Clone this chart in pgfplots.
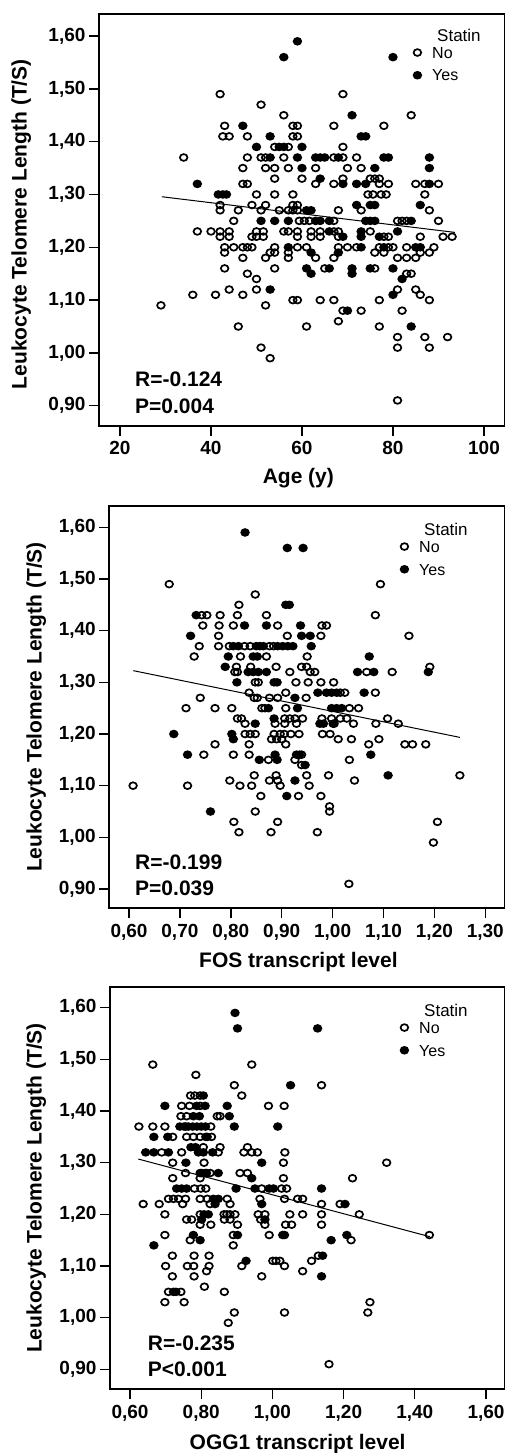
\documentclass[border=0pt]{standalone}
\usepackage{pgfplots}
\pgfplotsset{compat=1.18}
\usepackage{fontspec}
\setmainfont{Liberation Sans}
\pgfplotsset{
  panel/.style={
    scale only axis,
    tick pos=left, tick align=outside,
    major tick length=10pt,
    tick style={line width=1.4pt, black},
    axis line style={line width=1.8pt, black},
    ticklabel style={font=\fontsize{19}{22}\selectfont\bfseries},
    xticklabel style={yshift=-2pt},
    label style={font=\fontsize{21}{24}\selectfont\bfseries},
    ylabel={Leukocyte Telomere Length (T/S)},
    ytick={0.9,1,1.1,1.2,1.3,1.4,1.5,1.6},
    yticklabels={{0,90},{1,00},{1,10},{1,20},{1,30},{1,40},{1,50},{1,60}},
    legend style={draw=none, fill=none, inner sep=0pt, outer sep=0pt,
      anchor=north west, row sep=11.2pt,
      font=\fontsize{16}{16}\selectfont,
      nodes={inner sep=0pt, text height=11.5pt, text depth=0pt},
      /tikz/every odd column/.append style={column sep=11pt}},
    legend cell align=left,
  },
  openm/.style={only marks, mark=o, mark size=3.4pt, black,
    mark options={xscale=1.12, line width=1.7pt},
    legend image code/.code={\draw[##1] plot coordinates {(0pt,0pt)};}},
  fillm/.style={only marks, mark=*, mark size=3.4pt, black,
    mark options={xscale=1.12, line width=1.7pt, fill=black},
    legend image code/.code={\draw[##1] plot coordinates {(0pt,0pt)};}},
  regl/.style={black, line width=1pt, forget plot, no marks},
}
\begin{document}
\begin{tikzpicture}
%%%%%%%%%%%%%%%% Panel 1
\begin{axis}[panel,
  at={(99pt,-14pt)}, anchor=north west, width=406pt, height=412pt,
  xmin=15.385, xmax=104.62, ymin=0.8616, ymax=1.6417,
  xtick={20,40,60,80,100}, xticklabels={20,40,60,80,100},
  xlabel={Age (y)},
  xlabel style={at={(axis description cs:0.491,0)}, anchor=base, yshift=-57.3pt},
  ylabel style={at={(axis description cs:-0.178,0.49)}, anchor=base},
  legend style={at={(axis description cs:0.7749,0.9204)}},
]
\addplot[openm] coordinates {
(42,1.49)(69,1.49)(51,1.47)(56,1.45)(84,1.45)
(43,1.43)(58,1.43)(59,1.43)(67,1.43)(78,1.43)
(42.6,1.41)(44,1.41)(48,1.41)(58,1.41)(59,1.41)
(54,1.39)(57,1.39)(69,1.39)
(34,1.37)(48,1.37)(51,1.37)(52,1.37)(56,1.37)(67,1.37)(69,1.37)(72,1.37)
(47,1.35)(52,1.35)(54,1.35)(57,1.35)(63,1.35)(70,1.35)(73,1.35)
(54,1.33)(60,1.33)(69,1.33)(75,1.33)(76,1.33)(77,1.33)
(47,1.32)(48,1.32)(63,1.32)(67,1.32)(77,1.32)(79,1.32)(85,1.32)(87,1.32)(90,1.32)
(50,1.30)(54,1.30)(58,1.30)(74.5,1.30)(75.6,1.30)(77.4,1.30)(78.5,1.30)(87,1.30)
(42,1.28)(49,1.28)(52,1.28)(58,1.28)(59,1.28)
(42,1.27)(46,1.27)(51,1.27)(55,1.27)(57,1.27)(58,1.27)(59,1.27)(68,1.27)(73,1.27)(88,1.27)
(45,1.25)(59.4,1.25)(60.5,1.25)(61.6,1.25)(67,1.25)(81,1.25)(82,1.25)(83,1.25)(90,1.25)
(37,1.23)(40,1.23)(42,1.23)(44,1.23)(50,1.23)(51.5,1.23)(56,1.23)(57,1.23)(59,1.23)(62,1.23)(64,1.23)(67,1.23)(68,1.23)(75,1.23)
(42,1.22)(44,1.22)(49,1.22)(50,1.22)(51.5,1.22)(59,1.22)(62,1.22)(64,1.22)(68,1.22)(78,1.22)(79,1.22)(86,1.22)(91,1.22)(93,1.22)
(43,1.20)(45,1.20)(47,1.20)(48,1.20)(49,1.20)(54,1.20)(59,1.20)(61,1.20)(68,1.20)(70,1.20)(72,1.20)(77,1.20)(79,1.20)(80,1.20)(83,1.20)(89,1.20)
(43,1.19)(53,1.19)(54,1.19)(57,1.19)(76,1.19)(78,1.19)(86,1.19)(88,1.19)
(47,1.18)(52,1.18)(57,1.18)(63,1.18)(67,1.18)(81,1.18)(83,1.18)(85,1.18)
(43,1.16)(54,1.16)(65,1.16)(76,1.16)
(48,1.15)(83,1.15)(84,1.15)
(50,1.14)
(44,1.12)(50,1.12)(81,1.12)(85,1.12)
(36,1.11)(41,1.11)(47,1.11)(86,1.11)
(58,1.10)(59,1.10)(64,1.10)(67,1.10)(77,1.10)(88,1.10)
(29,1.09)(52,1.09)
(69,1.08)(73,1.08)(82,1.08)
(68,1.06)
(46,1.05)(61,1.05)(77,1.05)
(81,1.03)(87,1.03)(92,1.03)
(51,1.01)(81,1.01)(88,1.01)
(53,0.99)(81,0.91)
};
\addplot[fillm] coordinates {
(59,1.59)(56,1.56)(80,1.56)(71,1.45)(47,1.43)
(53,1.41)(73,1.41)(74,1.41)
(50,1.39)(55,1.39)(56,1.39)(60,1.39)
(53,1.37)(59,1.37)(63,1.37)(64,1.37)(65,1.37)(68,1.37)(78,1.37)(79,1.37)(88,1.37)
(60,1.35)(76,1.35)(88,1.35)
(64,1.33)
(37,1.32)(69,1.32)(72,1.32)(74,1.32)(88,1.32)
(41.6,1.30)(42.6,1.30)(43.4,1.30)
(72,1.28)(75,1.28)(76,1.28)(86,1.28)
(61,1.27)(62,1.27)
(51,1.25)(54,1.25)(57,1.25)(63,1.25)(64,1.25)(66,1.25)(74,1.25)(75,1.25)(76,1.25)(84,1.25)
(66,1.23)(73,1.23)(81,1.23)
(69,1.22)(73,1.22)(77,1.22)
(57,1.20)(73,1.20)(78,1.20)(85,1.20)(86,1.20)
(62,1.19)(68,1.19)
(61,1.16)(66,1.16)(71,1.16)(75,1.16)(80,1.16)
(62,1.15)(71,1.15)
(82,1.14)(53,1.12)(80,1.11)(70,1.08)(84,1.05)
};
\addplot[regl] coordinates {(29.2,1.2957) (93.6,1.2282)};
\legend{No,Yes}
\node[anchor=base west, inner sep=0pt, font=\fontsize{17}{17}\selectfont] at (rel axis cs:0.8325,0.9328) {Statin};
\node[anchor=base west, inner sep=0pt, font=\fontsize{21}{21}\selectfont\bfseries] at (rel axis cs:0.0887,0.0954) {R=-0.124};
\node[anchor=base west, inner sep=0pt, font=\fontsize{21}{21}\selectfont\bfseries] at (rel axis cs:0.0887,0.0308) {P=0.004};
\end{axis}
%%%%%%%%%%%%%%%% Panel 2
\begin{axis}[panel,
  at={(109.3pt,-505.7pt)}, anchor=north west, width=395.7pt, height=402.6pt,
  xmin=0.5613, xmax=1.3387, ymin=0.8627, ymax=1.6418,
  xtick={0.6,0.7,0.8,0.9,1.0,1.1,1.2,1.3},
  xticklabels={{0,60},{0,70},{0,80},{0,90},{1,00},{1,10},{1,20},{1,30}},
  xlabel={FOS transcript level},
  xlabel style={at={(axis description cs:0.478,0)}, anchor=base, yshift=-59.4pt},
  ylabel style={at={(axis description cs:-0.171,0.5)}, anchor=base},
  legend style={at={(axis description cs:0.7362,0.9128)}},
]
\addplot[openm] coordinates {
(0.679,1.49)(1.094,1.49)(0.848,1.47)(0.816,1.45)
(0.743,1.43)(0.753,1.43)(0.779,1.43)(0.813,1.43)(0.870,1.43)(1.084,1.43)
(0.745,1.41)(0.777,1.41)(0.805,1.41)(0.892,1.41)(0.979,1.41)(0.988,1.41)
(0.776,1.39)(0.911,1.39)(0.977,1.39)(1.150,1.39)
(0.738,1.37)(0.776,1.37)(0.797,1.37)(0.827,1.37)(0.838,1.37)(0.876,1.37)(0.884,1.37)
(0.728,1.35)(0.819,1.35)(0.870,1.35)(0.950,1.35)
(0.811,1.33)(0.839,1.33)(0.889,1.33)(0.939,1.33)(0.949,1.33)(1.191,1.33)
(0.808,1.32)(0.813,1.32)(0.916,1.32)(0.956,1.32)(0.965,1.32)(1.067,1.32)(1.117,1.32)
(0.848,1.30)(0.854,1.30)(0.928,1.30)(0.952,1.30)(0.977,1.30)(1.002,1.30)
(0.836,1.28)(0.908,1.28)(1.015,1.28)(1.024,1.28)(1.084,1.28)
(0.740,1.27)(0.846,1.27)(0.852,1.27)(0.876,1.27)(0.892,1.27)(0.948,1.27)
(0.712,1.25)(0.769,1.25)(0.802,1.25)(0.861,1.25)(0.867,1.25)(0.908,1.25)(1.033,1.25)(1.051,1.25)
(0.813,1.23)(0.821,1.23)(0.906,1.23)(0.916,1.23)(0.926,1.23)(0.941,1.23)(0.979,1.23)(0.998,1.23)(1.015,1.23)(1.028,1.23)(1.108,1.23)
(0.828,1.22)(0.887,1.22)(0.906,1.22)(0.929,1.22)(1.001,1.22)(1.041,1.22)(1.085,1.22)(1.129,1.22)
(0.828,1.20)(0.838,1.20)(0.848,1.20)(0.885,1.20)(0.897,1.20)(0.905,1.20)(0.918,1.20)(0.934,1.20)(0.980,1.20)(0.995,1.20)
(0.880,1.19)(0.890,1.19)(0.900,1.19)(1.011,1.19)(1.037,1.19)(1.091,1.19)
(0.769,1.18)(0.836,1.18)(0.908,1.18)(1.071,1.18)(1.142,1.18)(1.157,1.18)(1.183,1.18)
(0.747,1.16)(0.805,1.16)(0.836,1.16)(0.939,1.16)
(0.874,1.15)(0.926,1.15)(1.033,1.15)
(0.939,1.14)
(0.846,1.12)(0.889,1.12)(0.949,1.12)(0.992,1.12)(1.250,1.12)
(0.798,1.11)(0.876,1.11)(0.892,1.11)(1.043,1.11)
(0.608,1.10)(0.715,1.10)(0.818,1.10)(0.841,1.10)(0.897,1.10)(0.954,1.10)
(0.859,1.08)(0.933,1.08)(0.977,1.08)
(0.994,1.06)(0.848,1.05)(0.994,1.05)
(0.806,1.03)(0.892,1.03)(1.206,1.03)
(0.816,1.01)(0.879,1.01)(0.970,1.01)
(1.198,0.99)(1.032,0.91)
};
\addplot[fillm] coordinates {
(0.828,1.59)(0.911,1.56)(0.942,1.56)(0.908,1.45)(0.915,1.45)(0.732,1.43)
(0.827,1.41)(0.870,1.41)(0.937,1.41)
(0.721,1.39)(0.939,1.39)(0.956,1.39)
(0.805,1.37)(0.815,1.37)(0.850,1.37)(0.857,1.37)(0.864,1.37)(0.892,1.37)(0.902,1.37)(0.912,1.37)(0.922,1.37)(0.958,1.37)
(0.795,1.35)(0.844,1.35)(0.852,1.35)(1.072,1.35)
(0.789,1.33)
(0.834,1.32)(0.844,1.32)(0.854,1.32)(0.870,1.32)(1.049,1.32)(1.081,1.32)(1.188,1.32)
(0.812,1.30)(0.885,1.30)(0.891,1.30)
(0.971,1.28)(0.988,1.28)(0.998,1.28)(1.008,1.28)(1.062,1.28)
(0.926,1.27)
(0.874,1.25)(0.931,1.25)(0.998,1.25)(1.008,1.25)(1.018,1.25)
(0.885,1.23)
(0.848,1.22)(0.975,1.22)(0.982,1.22)(1.003,1.22)
(0.688,1.20)(0.802,1.20)(0.805,1.19)
(0.715,1.16)(0.887,1.16)(0.929,1.16)(0.935,1.16)(1.075,1.16)
(0.856,1.15)(0.891,1.15)(0.946,1.14)(1.109,1.12)(0.926,1.11)(0.910,1.08)(0.760,1.05)
};
\addplot[regl] coordinates {(0.6085,1.3226) (1.2503,1.1934)};
\legend{No,Yes}
\node[anchor=base west, inner sep=0pt, font=\fontsize{17}{17}\selectfont] at (rel axis cs:0.7953,0.9255) {Statin};
\node[anchor=base west, inner sep=0pt, font=\fontsize{21}{21}\selectfont\bfseries] at (rel axis cs:0.065,0.0976) {R=-0.199};
\node[anchor=base west, inner sep=0pt, font=\fontsize{21}{21}\selectfont\bfseries] at (rel axis cs:0.065,0.0313) {P=0.039};
\end{axis}
%%%%%%%%%%%%%%%% Panel 3
\begin{axis}[panel,
  at={(110pt,-986.7pt)}, anchor=north west, width=395pt, height=402.6pt,
  xmin=0.5438, xmax=1.6534, ymin=0.8613, ymax=1.6407,
  xtick={0.6,0.8,1.0,1.2,1.4,1.6},
  xticklabels={{0,60},{0,80},{1,00},{1,20},{1,40},{1,60}},
  xlabel={OGG1 transcript level},
  xlabel style={at={(axis description cs:0.475,0)}, anchor=base, yshift=-60.2pt},
  ylabel style={at={(axis description cs:-0.173,0.5)}, anchor=base},
  legend style={at={(axis description cs:0.7357,0.9128)}},
]
\addplot[openm] coordinates {
(0.664,1.49)(0.942,1.49)(0.785,1.47)(0.893,1.45)(1.138,1.45)
(0.770,1.43)(0.782,1.43)(0.797,1.43)(0.914,1.43)
(0.745,1.41)(0.767,1.41)(0.797,1.41)(0.989,1.41)(1.033,1.41)
(0.743,1.39)(0.759,1.39)(0.845,1.39)(0.853,1.39)
(0.625,1.37)(0.664,1.37)(0.698,1.37)(0.757,1.37)(0.827,1.37)
(0.720,1.35)(0.759,1.35)(0.778,1.35)(0.797,1.35)(0.813,1.35)(0.829,1.35)
(0.806,1.33)(0.853,1.33)(0.930,1.33)
(0.689,1.32)(0.745,1.32)(0.848,1.32)(0.920,1.32)(0.942,1.32)(0.958,1.32)(1.035,1.32)
(0.720,1.30)(0.808,1.30)(1.031,1.30)(1.321,1.30)
(0.756,1.28)(0.797,1.28)(0.811,1.28)(0.825,1.28)(0.909,1.28)(0.930,1.28)
(0.720,1.27)(0.797,1.27)(1.031,1.27)(1.225,1.27)
(0.781,1.25)(0.799,1.25)(0.813,1.25)(0.970,1.25)(1.026,1.25)(1.040,1.25)
(0.708,1.23)(0.722,1.23)(0.736,1.23)(0.756,1.23)(0.797,1.23)(0.817,1.23)(0.873,1.23)(0.965,1.23)(1.034,1.23)(1.071,1.23)(1.085,1.23)
(0.637,1.22)(0.682,1.22)(0.748,1.22)(0.825,1.22)(0.881,1.22)(1.138,1.22)(1.190,1.22)
(0.698,1.20)(0.797,1.20)(0.864,1.20)(0.872,1.20)(0.881,1.20)(0.895,1.20)(0.960,1.20)(0.979,1.20)(1.049,1.20)(1.085,1.20)(1.138,1.20)(1.244,1.20)
(0.759,1.19)(0.773,1.19)(0.865,1.19)(0.881,1.19)(0.967,1.19)
(0.797,1.18)(0.827,1.18)(0.902,1.18)(0.979,1.18)(1.037,1.18)(1.054,1.18)(1.138,1.18)
(0.698,1.16)(0.890,1.16)(0.991,1.16)(1.441,1.16)
(0.769,1.15)(1.221,1.15)(0.890,1.14)
(0.719,1.12)(0.780,1.12)(0.822,1.12)(1.129,1.12)
(1.001,1.11)(1.010,1.11)(1.021,1.11)(1.110,1.11)
(0.700,1.10)(0.761,1.10)(0.779,1.10)(0.822,1.10)(0.914,1.10)(1.034,1.10)
(0.815,1.09)(1.085,1.09)
(0.719,1.08)(0.780,1.08)(0.970,1.08)
(0.809,1.06)
(0.708,1.05)(0.743,1.05)(0.865,1.05)
(0.698,1.03)(0.752,1.03)(1.274,1.03)
(0.893,1.01)(1.034,1.01)(1.268,1.01)
(0.876,0.99)(1.159,0.91)
};
\addplot[fillm] coordinates {
(0.895,1.59)(0.902,1.56)(1.127,1.56)(1.051,1.45)(0.806,1.43)
(0.698,1.41)(0.787,1.41)(0.811,1.41)(0.873,1.41)
(0.778,1.39)(0.795,1.39)(0.879,1.39)
(0.740,1.37)(0.752,1.37)(0.764,1.37)(0.776,1.37)(0.788,1.37)(0.800,1.37)(0.812,1.37)(0.893,1.37)(1.015,1.37)
(0.667,1.35)(0.706,1.35)(0.817,1.35)
(0.771,1.33)(0.784,1.33)
(0.644,1.32)(0.667,1.32)(0.708,1.32)(0.792,1.32)(0.806,1.32)(0.832,1.32)
(0.757,1.30)(0.970,1.30)
(0.801,1.28)(0.815,1.28)(0.848,1.28)
(0.942,1.27)
(0.731,1.25)(0.745,1.25)(0.759,1.25)(0.898,1.25)(0.951,1.25)(0.991,1.25)(1.003,1.25)(1.138,1.25)
(0.834,1.23)(0.848,1.23)
(0.839,1.22)(0.970,1.22)(1.204,1.22)
(0.808,1.20)(0.820,1.20)
(0.801,1.19)(0.979,1.19)
(0.778,1.16)(0.902,1.16)(1.029,1.16)(1.034,1.16)(1.209,1.16)
(0.797,1.15)(1.165,1.15)(0.667,1.14)(1.141,1.12)(0.926,1.11)(1.138,1.08)
(0.722,1.05)(0.729,1.05)
};
\addplot[regl] coordinates {(0.6233,1.3071) (1.4427,1.1567)};
\legend{No,Yes}
\node[anchor=base west, inner sep=0pt, font=\fontsize{17}{17}\selectfont] at (rel axis cs:0.7949,0.9255) {Statin};
\node[anchor=base west, inner sep=0pt, font=\fontsize{21}{21}\selectfont\bfseries] at (rel axis cs:0.0954,0.0976) {R=-0.235};
\node[anchor=base west, inner sep=0pt, font=\fontsize{21}{21}\selectfont\bfseries] at (rel axis cs:0.0954,0.0313) {P<0.001};
\end{axis}
\pgfresetboundingbox
\path[use as bounding box] (0pt,0pt) rectangle (504pt,-1453pt);
\end{tikzpicture}
\end{document}
